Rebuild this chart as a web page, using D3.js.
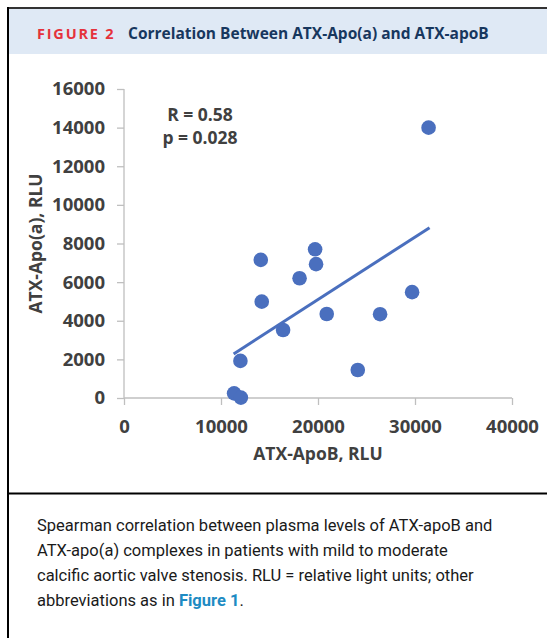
<!DOCTYPE html>
<html lang="en">
<head>
	<meta charset="UTF-8">
	<script src="https://cdnjs.cloudflare.com/ajax/libs/d3/7.8.5/d3.min.js"></script>
	<title>Correlation Between ATX-Apo(a) and ATX-apoB</title>
	<style>
		body{ margin: 0; background: #fff; }
		.tick_label{
			font-family: "Open Sans", sans-serif;
			font-weight: 700;
			font-size: 18.5px;
			fill: #404040;
		}
		.axis_title{
			font-family: "Open Sans", sans-serif;
			font-weight: 700;
			font-size: 17.5px;
			fill: #404040;
		}
		.caption{
			font-family: Roboto, sans-serif;
			font-size: 16.5px;
			fill: #1a1a1a;
		}
	</style>
</head>
<body>
	<script>
		// values
		const apoB = [14100, 19700, 19800, 18100, 14200, 20900, 26400, 29700, 16400, 12000, 24100, 11350, 12050, 31400];
		const apoA = [7150, 7700, 6930, 6200, 4990, 4350, 4340, 5480, 3520, 1920, 1450, 240, 20, 14000];
		const trendB = [11300, 31500];
		const trendA = [2280, 8820];
		const xTicks = [0, 10000, 20000, 30000, 40000];
		const yTicks = [0, 2000, 4000, 6000, 8000, 10000, 12000, 14000, 16000];
		const caption = [
			"Spearman correlation between plasma levels of ATX-apoB and",
			"ATX-apo(a) complexes in patients with mild to moderate",
			"calcific aortic valve stenosis. RLU = relative light units; other"
		];

		const width = 547, height = 638;
		const svg = d3.select("body")
			.append("svg")
			.attr("width", width)
			.attr("height", height);

		// frame + header
		svg.append("rect")
			.attr("x", 9).attr("y", 9)
			.attr("width", width - 9).attr("height", 45)
			.style("fill", "#dfe9f5");
		svg.append("line")
			.attr("x1", 7).attr("x2", width)
			.attr("y1", 8).attr("y2", 8)
			.style("stroke", "#333").style("stroke-width", 2);
		svg.append("line")
			.attr("x1", 8).attr("x2", 8)
			.attr("y1", 7).attr("y2", height)
			.style("stroke", "#000").style("stroke-width", 2);
		svg.append("line")
			.attr("x1", 7).attr("x2", width)
			.attr("y1", 493.5).attr("y2", 493.5)
			.style("stroke", "#000").style("stroke-width", 2);

		const head = svg.append("text")
			.attr("x", 37).attr("y", 39)
			.style("font-family", "Open Sans, sans-serif")
			.style("font-weight", 700);
		head.append("tspan")
			.style("fill", "#e5323c")
			.style("font-size", "14.5px")
			.style("letter-spacing", "1.8px")
			.text("FIGURE 2");
		head.append("tspan")
			.attr("x", 128)
			.style("fill", "#17375e")
			.style("font-size", "15.5px")
			.text("Correlation Between ATX-Apo(a) and ATX-apoB");

		// scales
		let x = d3.scaleLinear().domain([0, 40000]).range([124, 512]),
			y = d3.scaleLinear().domain([0, 16000]).range([398, 89]);

		const g = svg.append("g");
		g.append("g")
			.attr("transform", "translate(124,0)")
			.call(d3.axisLeft(y).tickValues(yTicks).tickSize(7).tickPadding(12).tickFormat(d3.format("d")))
			.call(a => a.select(".domain").attr("d", "M0," + y(16000) + "V" + y(0)));
		g.append("g")
			.attr("transform", "translate(0,398)")
			.call(d3.axisBottom(x).tickValues(xTicks).tickSize(7).tickPadding(15).tickFormat(d3.format("d")))
			.call(a => a.select(".domain").attr("d", "M" + x(0) + ",0H" + x(40000)));
		g.selectAll(".domain, .tick line").style("stroke", "#bfbfbf").style("stroke-width", 1.3);
		g.selectAll(".tick text").attr("class", "tick_label").attr("fill", null);

		// points
		svg.selectAll(".dot")
			.data(apoB)
			.enter()
			.append("circle")
			.attr("class", "dot")
			.attr("cx", function (d) { return x(d); })
			.attr("cy", function (d, i) { return y(apoA[i]); })
			.attr("r", 7.3)
			.style("fill", "#4a6fbe");

		// trend line
		svg.append("path")
			.datum(trendB.map(function (d, i) { return [d, trendA[i]]; }))
			.attr("d", d3.line().x(d => x(d[0])).y(d => y(d[1])))
			.style("fill", "none")
			.style("stroke", "#4a6fbe")
			.style("stroke-width", 3);

		// stats
		svg.append("text").attr("class", "axis_title")
			.attr("x", 200).attr("y", 121).attr("text-anchor", "middle")
			.text("R = 0.58");
		svg.append("text").attr("class", "axis_title")
			.attr("x", 200).attr("y", 144).attr("text-anchor", "middle")
			.text("p = 0.028");

		// axis titles
		svg.append("text").attr("class", "axis_title")
			.attr("x", x(20000)).attr("y", 460).attr("text-anchor", "middle")
			.text("ATX-ApoB, RLU");
		svg.append("text").attr("class", "axis_title")
			.attr("transform", "translate(42," + y(8000) + ") rotate(-90)")
			.attr("text-anchor", "middle")
			.text("ATX-Apo(a), RLU");

		// caption
		caption.forEach(function (t, i) {
			svg.append("text").attr("class", "caption")
				.attr("x", 37).attr("y", 531 + i * 25)
				.text(t);
		});
		const last = svg.append("text").attr("class", "caption")
			.attr("x", 37).attr("y", 531 + 3 * 25);
		last.append("tspan").text("abbreviations as in ");
		last.append("tspan").style("fill", "#1e8bc3").style("font-weight", 700).text("Figure 1");
		last.append("tspan").text(".");
	</script>
</body>
</html>
